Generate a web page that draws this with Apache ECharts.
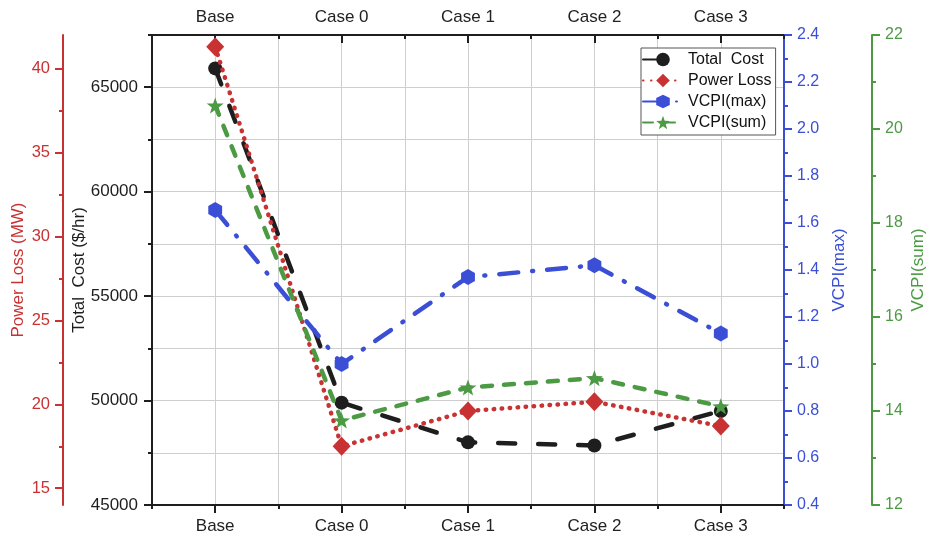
<!DOCTYPE html>
<html>
<head>
<meta charset="utf-8">
<script src="https://cdn.jsdelivr.net/npm/echarts@6/dist/echarts.min.js"></script>
<style>
html,body{margin:0;padding:0;background:#fff;}
#chart{width:928px;height:538px;}
</style>
</head>
<body>
<div id="chart"></div>
<script>
// ---- data ----
var categories = ['Base', 'Case 0', 'Case 1', 'Case 2', 'Case 3'];
var totalCost = [65900, 49900, 48000, 47850, 49500];
var powerLoss = [41.3, 17.5, 19.6, 20.15, 18.7];
var vcpiMax = [1.655, 1.0, 1.37, 1.42, 1.13];
var vcpiSum = [20.5, 13.8, 14.5, 14.7, 14.1];

var costTicks = [45000, 50000, 55000, 60000, 65000];
var costMinor = [47500, 52500, 57500, 62500, 67500];
var lossTicks = [15, 20, 25, 30, 35, 40];
var lossMinor = [17.5, 22.5, 27.5, 32.5, 37.5];
var maxTicks = [0.4, 0.6, 0.8, 1.0, 1.2, 1.4, 1.6, 1.8, 2.0, 2.2, 2.4];
var maxMinor = [0.5, 0.7, 0.9, 1.1, 1.3, 1.5, 1.7, 1.9, 2.1, 2.3];
var sumTicks = [12, 14, 16, 18, 20, 22];
var sumMinor = [13, 15, 17, 19, 21];

var BLACK = '#1e1e1e', RED = '#c83232', BLUE = '#3b4fd6', GREEN = '#4c9a44';
var FONT = 'Liberation Sans, Arial, sans-serif';

var hexagon = 'path://M0,-10L8.66,-5L8.66,5L0,10L-8.66,5L-8.66,-5Z';
var star = 'path://M0,-10L2.351,-3.236L9.511,-3.09L3.804,1.236L5.878,8.09L0,4L-5.878,8.09L-3.804,1.236L-9.511,-3.09L-2.351,-3.236Z';

function plain(v) { return String(v); }

function mainY(opt) {
  return {
    type: 'value',
    position: opt.pos,
    offset: opt.offset,
    min: opt.min, max: opt.max,
    name: opt.name,
    nameLocation: 'middle',
    nameGap: opt.nameGap,
    nameMoveOverlap: false,
    nameTextStyle: {color: opt.color, fontSize: 17, fontFamily: FONT},
    axisLine: {show: true, onZero: false, lineStyle: {color: opt.color, width: 2}},
    axisTick: {show: true, inside: false, length: 8, customValues: opt.ticks, lineStyle: {color: opt.color, width: 2}},
    axisLabel: {show: true, margin: opt.margin, customValues: opt.ticks, color: opt.color, fontSize: opt.fs, fontFamily: FONT,
      formatter: opt.fmt || plain},
    splitLine: {show: false}
  };
}
function minorY(opt) {
  return {
    type: 'value', position: opt.pos, offset: opt.offset, min: opt.min, max: opt.max,
    axisLine: {show: false, onZero: false},
    axisTick: {show: true, inside: false, length: 4, customValues: opt.ticks, lineStyle: {color: opt.color, width: 2}},
    axisLabel: {show: false},
    splitLine: {show: false}
  };
}

var chart = echarts.init(document.getElementById('chart'), null, {renderer: 'canvas'});
var option = {
  animation: false,
  backgroundColor: '#ffffff',
  grid: {left: 152, right: 144, top: 35, bottom: 33, containLabel: false, outerBoundsMode: 'none'},
  legend: {
    orient: 'vertical',
    left: 641, top: 48,
    backgroundColor: '#ffffff',
    borderColor: '#555555', borderWidth: 1,
    padding: [3, 4, 4, 1],
    itemWidth: 40, itemHeight: 17, itemGap: 4,
    textStyle: {fontSize: 16, fontFamily: FONT, color: '#111', lineHeight: 17},
    data: ['Total  Cost', 'Power Loss', 'VCPI(max)', 'VCPI(sum)']
  },
  xAxis: [
    {type: 'category', position: 'bottom', data: categories, boundaryGap: true,
      axisLine: {show: true, onZero: false, lineStyle: {color: BLACK, width: 2}},
      axisTick: {show: true, alignWithLabel: true, inside: false, length: 8, lineStyle: {color: BLACK, width: 2}},
      axisLabel: {show: true, margin: 13, fontSize: 17, color: '#222', fontFamily: FONT},
      splitLine: {show: false}},
    {type: 'category', position: 'bottom', data: categories, boundaryGap: true,
      axisLine: {show: false, onZero: false},
      axisTick: {show: true, alignWithLabel: false, inside: false, length: 4, lineStyle: {color: BLACK, width: 2}},
      axisLabel: {show: false}, splitLine: {show: false}},
    {type: 'category', position: 'top', data: categories, boundaryGap: true,
      axisLine: {show: true, onZero: false, lineStyle: {color: BLACK, width: 2}},
      axisTick: {show: true, alignWithLabel: true, inside: true, length: 8, lineStyle: {color: BLACK, width: 2}},
      axisLabel: {show: true, margin: 9, fontSize: 17, color: '#222', fontFamily: FONT},
      splitLine: {show: false}},
    {type: 'category', position: 'top', data: categories, boundaryGap: true,
      axisLine: {show: false, onZero: false},
      axisTick: {show: true, alignWithLabel: false, inside: true, length: 4, lineStyle: {color: BLACK, width: 2}},
      axisLabel: {show: false}, splitLine: {show: false}},
    {type: 'value', position: 'bottom', min: -0.5, max: 4.5, interval: 0.5,
      axisLine: {show: false, onZero: false}, axisTick: {show: false}, axisLabel: {show: false},
      splitLine: {show: true, lineStyle: {color: '#cfcfcf', width: 1}}}
  ],
  yAxis: [
    mainY({pos: 'left', offset: 0, min: 45000, max: 67500, name: 'Total  Cost ($/hr)', nameGap: 64, color: BLACK,
      ticks: costTicks, margin: 14, fs: 17}),
    mainY({pos: 'left', offset: 89, min: 14, max: 42, name: 'Power Loss (MW)', nameGap: 36, color: RED,
      ticks: lossTicks, margin: 13, fs: 16.5}),
    mainY({pos: 'right', offset: 0, min: 0.4, max: 2.4, name: 'VCPI(max)', nameGap: 47, color: BLUE,
      ticks: maxTicks, margin: 13, fs: 16, fmt: function (v) { return Number(v).toFixed(1); }}),
    mainY({pos: 'right', offset: 88, min: 12, max: 22, name: 'VCPI(sum)', nameGap: 38, color: GREEN,
      ticks: sumTicks, margin: 13, fs: 16}),
    minorY({pos: 'left', offset: 0, min: 45000, max: 67500, color: BLACK, ticks: costMinor}),
    minorY({pos: 'left', offset: 89, min: 14, max: 42, color: RED, ticks: lossMinor}),
    minorY({pos: 'right', offset: 0, min: 0.4, max: 2.4, color: BLUE, ticks: maxMinor}),
    minorY({pos: 'right', offset: 88, min: 12, max: 22, color: GREEN, ticks: sumMinor}),
    {type: 'value', position: 'left', offset: 0, min: 45000, max: 67500, interval: 2500,
      axisLine: {show: false, onZero: false}, axisTick: {show: false}, axisLabel: {show: false},
      splitLine: {show: true, lineStyle: {color: '#cfcfcf', width: 1}}}
  ],
  series: [
    {name: 'Total  Cost', type: 'line', xAxisIndex: 0, yAxisIndex: 0, data: totalCost,
      symbol: 'circle', symbolSize: 14,
      lineStyle: {color: BLACK, width: 4.5, type: [17, 23], cap: 'round'},
      itemStyle: {color: BLACK}, z: 3},
    {name: 'Power Loss', type: 'line', xAxisIndex: 0, yAxisIndex: 1, data: powerLoss,
      symbol: 'diamond', symbolSize: [18, 19],
      lineStyle: {color: RED, width: 4.5, type: [0.5, 7.5], cap: 'round'},
      itemStyle: {color: RED}, z: 4},
    {name: 'VCPI(max)', type: 'line', xAxisIndex: 0, yAxisIndex: 2, data: vcpiMax,
      symbol: hexagon, symbolSize: 16, symbolKeepAspect: true,
      lineStyle: {color: BLUE, width: 4.5, type: [19, 14, 1, 14], cap: 'round'},
      itemStyle: {color: BLUE}, z: 5},
    {name: 'VCPI(sum)', type: 'line', xAxisIndex: 0, yAxisIndex: 3, data: vcpiSum,
      symbol: star, symbolSize: 17, symbolKeepAspect: true,
      lineStyle: {color: GREEN, width: 4.5, type: [10, 12], cap: 'round'},
      itemStyle: {color: GREEN}, z: 6}
  ]
};
chart.setOption(option);
</script>
</body>
</html>
